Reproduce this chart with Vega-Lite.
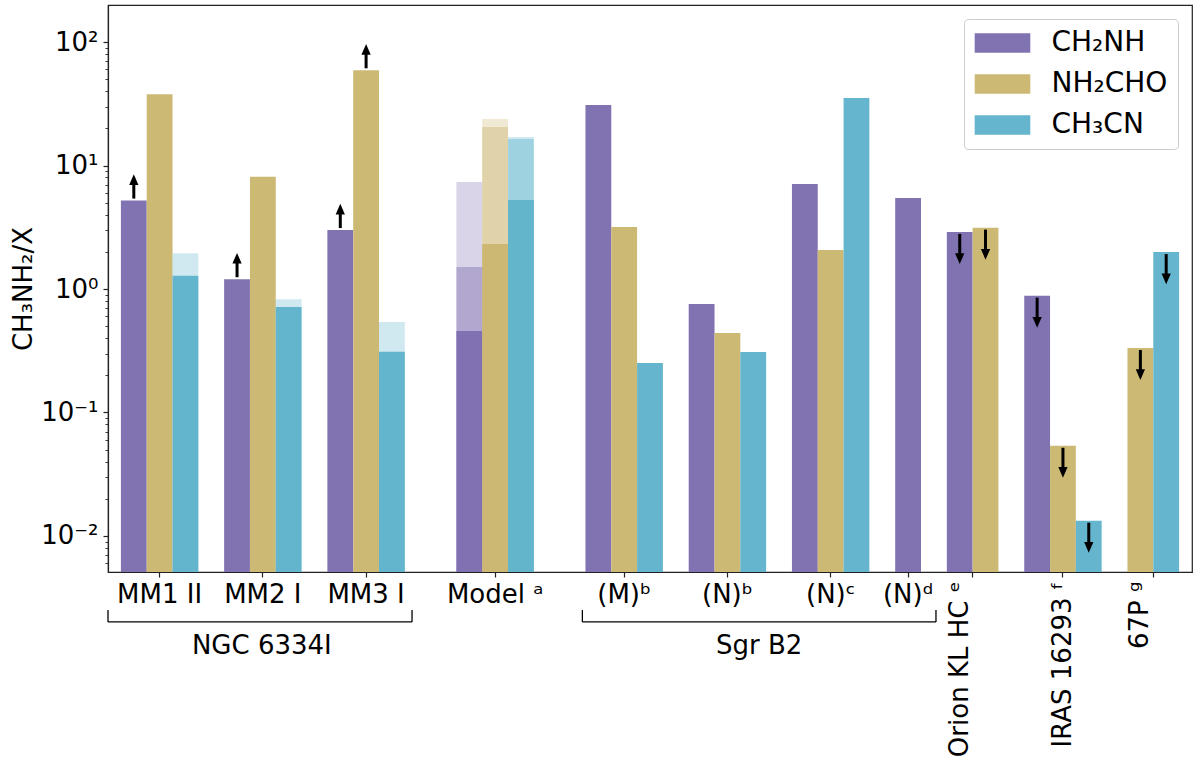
{
  "$schema": "https://vega.github.io/schema/vega-lite/v6.json",
  "width": 1084,
  "height": 567,
  "autosize": {"type": "none"},
  "padding": {"left": 108, "top": 5, "right": 8, "bottom": 193},
  "config": {
    "font": "DejaVu Sans",
    "view": {"stroke": "#222222", "strokeWidth": 1.2},
    "axis": {"grid": false, "domainColor": "#222222", "domainWidth": 1.2, "tickColor": "#222222", "labelColor": "black", "titleColor": "black", "labelFont": "DejaVu Sans", "titleFont": "DejaVu Sans", "titleFontWeight": "normal"},
    "text": {"font": "DejaVu Sans"}
  },
  "datasets": {
    "bars": [
      {"group": "MM1 II", "species": "CH₂NH", "ratio": 5.2, "limit": "lower"},
      {"group": "MM1 II", "species": "NH₂CHO", "ratio": 37.7},
      {"group": "MM1 II", "species": "CH₃CN", "ratio": 1.28, "light": 1.95},
      {"group": "MM2 I", "species": "CH₂NH", "ratio": 1.2, "limit": "lower"},
      {"group": "MM2 I", "species": "NH₂CHO", "ratio": 8.1},
      {"group": "MM2 I", "species": "CH₃CN", "ratio": 0.715, "light": 0.826},
      {"group": "MM3 I", "species": "CH₂NH", "ratio": 3.0, "limit": "lower"},
      {"group": "MM3 I", "species": "NH₂CHO", "ratio": 59, "limit": "lower"},
      {"group": "MM3 I", "species": "CH₃CN", "ratio": 0.31, "light": 0.54},
      {"group": "Model ᵃ", "species": "CH₂NH", "ratio": 0.457, "mid": 1.51, "light": 7.35},
      {"group": "Model ᵃ", "species": "NH₂CHO", "ratio": 2.31, "mid": 20.5, "light": 23.8},
      {"group": "Model ᵃ", "species": "CH₃CN", "ratio": 5.26, "mid": 16.4, "light": 17.0},
      {"group": "(M)ᵇ", "species": "CH₂NH", "ratio": 30.9},
      {"group": "(M)ᵇ", "species": "NH₂CHO", "ratio": 3.18},
      {"group": "(M)ᵇ", "species": "CH₃CN", "ratio": 0.252},
      {"group": "(N)ᵇ", "species": "CH₂NH", "ratio": 0.756},
      {"group": "(N)ᵇ", "species": "NH₂CHO", "ratio": 0.44},
      {"group": "(N)ᵇ", "species": "CH₃CN", "ratio": 0.309},
      {"group": "(N)ᶜ", "species": "CH₂NH", "ratio": 7.08},
      {"group": "(N)ᶜ", "species": "NH₂CHO", "ratio": 2.07},
      {"group": "(N)ᶜ", "species": "CH₃CN", "ratio": 35.2},
      {"group": "(N)ᵈ", "species": "CH₂NH", "ratio": 5.46},
      {"group": "Orion KL HC ᵉ", "species": "CH₂NH", "ratio": 2.9, "limit": "upper"},
      {"group": "Orion KL HC ᵉ", "species": "NH₂CHO", "ratio": 3.14, "limit": "upper"},
      {"group": "IRAS 16293 ᶠ", "species": "CH₂NH", "ratio": 0.883, "limit": "upper"},
      {"group": "IRAS 16293 ᶠ", "species": "NH₂CHO", "ratio": 0.0538, "limit": "upper"},
      {"group": "IRAS 16293 ᶠ", "species": "CH₃CN", "ratio": 0.0133, "limit": "upper"},
      {"group": "67P ᵍ", "species": "NH₂CHO", "ratio": 0.333, "limit": "upper"},
      {"group": "67P ᵍ", "species": "CH₃CN", "ratio": 1.99, "limit": "upper"}
    ]
  },
  "data": {"name": "bars"},
  "resolve": {"axis": {"x": "independent", "y": "independent"}},
  "layer": [
    {
      "transform": [{"calculate": "datum.group + '|' + datum.species", "as": "slot"}],
      "mark": {"type": "bar"},
      "encoding": {
        "x": {"field": "slot", "type": "nominal", "scale": {"type": "band", "paddingInner": 0, "paddingOuter": 0.5, "domain": ["MM1 II|CH₂NH","MM1 II|NH₂CHO","MM1 II|CH₃CN","_2","MM2 I|CH₂NH","MM2 I|NH₂CHO","MM2 I|CH₃CN","_6","MM3 I|CH₂NH","MM3 I|NH₂CHO","MM3 I|CH₃CN","_10","_11","Model ᵃ|CH₂NH","Model ᵃ|NH₂CHO","Model ᵃ|CH₃CN","_15","_16","(M)ᵇ|CH₂NH","(M)ᵇ|NH₂CHO","(M)ᵇ|CH₃CN","_20","(N)ᵇ|CH₂NH","(N)ᵇ|NH₂CHO","(N)ᵇ|CH₃CN","_24","(N)ᶜ|CH₂NH","(N)ᶜ|NH₂CHO","(N)ᶜ|CH₃CN","_28","(N)ᵈ|CH₂NH","_30","Orion KL HC ᵉ|CH₂NH","Orion KL HC ᵉ|NH₂CHO","_33","IRAS 16293 ᶠ|CH₂NH","IRAS 16293 ᶠ|NH₂CHO","IRAS 16293 ᶠ|CH₃CN","_37","67P ᵍ|NH₂CHO","67P ᵍ|CH₃CN"]},
          "axis": {"orient": "bottom", "title": null, "values": ["MM1 II|NH₂CHO","MM2 I|NH₂CHO","MM3 I|NH₂CHO","Model ᵃ|NH₂CHO","(M)ᵇ|NH₂CHO","(N)ᵇ|NH₂CHO","(N)ᶜ|NH₂CHO","(N)ᵈ|CH₂NH"], "labelExpr": "split(datum.value, '|')[0]", "labelAngle": 0, "labelFontSize": 26, "labelPadding": 4, "tickSize": 5, "tickWidth": 1.2, "bandPosition": 0.5, "labelLimit": 400, "labelOverlap": false, "domain": true}},
        "y": {"field": "ratio", "type": "quantitative", "stack": null, "scale": {"type": "log", "domain": [0.00511, 199.4], "nice": false},
          "axis": {"orient": "left", "title": "CH₃NH₂/X", "titleFontSize": 26, "titlePadding": 4, "labelFontSize": 26, "labelPadding": 5, "labelOverlap": false,
            "values": [0.01, 0.1, 1, 10, 100], "tickSize": 5, "tickWidth": 1.2,
            "labelExpr": "datum.value == 100 ? '10²' : datum.value == 10 ? '10¹' : datum.value == 1 ? '10⁰' : datum.value == 0.1 ? '10⁻¹' : '10⁻²'"}},
        "color": {"field": "species", "type": "nominal", "title": null,
          "scale": {"domain": ["CH₂NH", "NH₂CHO", "CH₃CN"], "range": ["#8172b2", "#ccb974", "#64b5cd"]},
          "legend": {"orient": "top-right", "offset": 14, "labelFontSize": 28, "labelFont": "DejaVu Sans", "labelColor": "black", "symbolType": "M-2,-0.7H2V0.7H-2Z", "symbolSize": 773, "symbolStrokeWidth": 0, "symbolOpacity": 1, "symbolOffset": 14.5, "labelOffset": 35, "rowPadding": 13, "padding": 10, "strokeColor": "#cccccc", "fillColor": "white", "cornerRadius": 4, "labelLimit": 300}}
      }
    },
    {
      "transform": [{"filter": "isValid(datum.light)"}, {"calculate": "datum.group + '|' + datum.species", "as": "slot"}],
      "mark": {"type": "bar", "opacity": 0.3},
      "encoding": {
        "x": {"field": "slot", "type": "nominal", "scale": {"type": "band", "paddingInner": 0, "paddingOuter": 0.5, "domain": ["MM1 II|CH₂NH","MM1 II|NH₂CHO","MM1 II|CH₃CN","_2","MM2 I|CH₂NH","MM2 I|NH₂CHO","MM2 I|CH₃CN","_6","MM3 I|CH₂NH","MM3 I|NH₂CHO","MM3 I|CH₃CN","_10","_11","Model ᵃ|CH₂NH","Model ᵃ|NH₂CHO","Model ᵃ|CH₃CN","_15","_16","(M)ᵇ|CH₂NH","(M)ᵇ|NH₂CHO","(M)ᵇ|CH₃CN","_20","(N)ᵇ|CH₂NH","(N)ᵇ|NH₂CHO","(N)ᵇ|CH₃CN","_24","(N)ᶜ|CH₂NH","(N)ᶜ|NH₂CHO","(N)ᶜ|CH₃CN","_28","(N)ᵈ|CH₂NH","_30","Orion KL HC ᵉ|CH₂NH","Orion KL HC ᵉ|NH₂CHO","_33","IRAS 16293 ᶠ|CH₂NH","IRAS 16293 ᶠ|NH₂CHO","IRAS 16293 ᶠ|CH₃CN","_37","67P ᵍ|NH₂CHO","67P ᵍ|CH₃CN"]},
          "axis": {"orient": "bottom", "title": null, "values": ["IRAS 16293 ᶠ|NH₂CHO"], "labelExpr": "split(datum.value, '|')[0]", "labelAngle": 270, "labelAlign": "right", "labelBaseline": "middle", "labelFontSize": 26, "labelPadding": 4, "tickSize": 5, "tickWidth": 1.2, "bandPosition": 0.5, "labelLimit": 400, "labelOverlap": false, "domain": false}},
        "y": {"field": "light", "type": "quantitative", "stack": null, "scale": {"type": "log", "domain": [0.00511, 199.4], "nice": false},
          "axis": {"orient": "left", "title": null, "labels": false, "domain": false, "tickSize": 3, "tickWidth": 0.9,
            "values": [0.006,0.007,0.008,0.009,0.02,0.03,0.04,0.05,0.06,0.07,0.08,0.09,0.2,0.3,0.4,0.5,0.6,0.7,0.8,0.9,2,3,4,5,6,7,8,9,20,30,40,50,60,70,80,90]}},
        "color": {"field": "species", "type": "nominal", "scale": {"domain": ["CH₂NH", "NH₂CHO", "CH₃CN"], "range": ["#8172b2", "#ccb974", "#64b5cd"]}, "legend": null}
      }
    },
    {
      "transform": [{"filter": "isValid(datum.mid)"}, {"calculate": "datum.group + '|' + datum.species", "as": "slot"}],
      "mark": {"type": "bar", "opacity": 0.45},
      "encoding": {
        "x": {"field": "slot", "type": "nominal", "scale": {"type": "band", "paddingInner": 0, "paddingOuter": 0.5, "domain": ["MM1 II|CH₂NH","MM1 II|NH₂CHO","MM1 II|CH₃CN","_2","MM2 I|CH₂NH","MM2 I|NH₂CHO","MM2 I|CH₃CN","_6","MM3 I|CH₂NH","MM3 I|NH₂CHO","MM3 I|CH₃CN","_10","_11","Model ᵃ|CH₂NH","Model ᵃ|NH₂CHO","Model ᵃ|CH₃CN","_15","_16","(M)ᵇ|CH₂NH","(M)ᵇ|NH₂CHO","(M)ᵇ|CH₃CN","_20","(N)ᵇ|CH₂NH","(N)ᵇ|NH₂CHO","(N)ᵇ|CH₃CN","_24","(N)ᶜ|CH₂NH","(N)ᶜ|NH₂CHO","(N)ᶜ|CH₃CN","_28","(N)ᵈ|CH₂NH","_30","Orion KL HC ᵉ|CH₂NH","Orion KL HC ᵉ|NH₂CHO","_33","IRAS 16293 ᶠ|CH₂NH","IRAS 16293 ᶠ|NH₂CHO","IRAS 16293 ᶠ|CH₃CN","_37","67P ᵍ|NH₂CHO","67P ᵍ|CH₃CN"]},
          "axis": {"orient": "bottom", "title": null, "values": ["Orion KL HC ᵉ|CH₂NH", "67P ᵍ|NH₂CHO"], "labelExpr": "split(datum.value, '|')[0]", "labelAngle": 270, "labelAlign": "right", "labelBaseline": "middle", "labelFontSize": 26, "labelPadding": 4, "tickSize": 5, "tickWidth": 1.2, "bandPosition": 1, "labelLimit": 400, "labelOverlap": false, "domain": false}},
        "y": {"field": "mid", "type": "quantitative", "stack": null, "scale": {"type": "log", "domain": [0.00511, 199.4], "nice": false}, "axis": null},
        "color": {"field": "species", "type": "nominal", "scale": {"domain": ["CH₂NH", "NH₂CHO", "CH₃CN"], "range": ["#8172b2", "#ccb974", "#64b5cd"]}, "legend": null}
      }
    },
    {
      "transform": [{"filter": "datum.limit === 'lower'"}, {"calculate": "datum.group + '|' + datum.species", "as": "slot"}],
      "mark": {"type": "rule", "color": "black", "strokeWidth": 3, "yOffset": -2, "y2Offset": -17},
      "encoding": {
        "x": {"field": "slot", "type": "nominal", "scale": {"type": "band", "paddingInner": 0, "paddingOuter": 0.5, "domain": ["MM1 II|CH₂NH","MM1 II|NH₂CHO","MM1 II|CH₃CN","_2","MM2 I|CH₂NH","MM2 I|NH₂CHO","MM2 I|CH₃CN","_6","MM3 I|CH₂NH","MM3 I|NH₂CHO","MM3 I|CH₃CN","_10","_11","Model ᵃ|CH₂NH","Model ᵃ|NH₂CHO","Model ᵃ|CH₃CN","_15","_16","(M)ᵇ|CH₂NH","(M)ᵇ|NH₂CHO","(M)ᵇ|CH₃CN","_20","(N)ᵇ|CH₂NH","(N)ᵇ|NH₂CHO","(N)ᵇ|CH₃CN","_24","(N)ᶜ|CH₂NH","(N)ᶜ|NH₂CHO","(N)ᶜ|CH₃CN","_28","(N)ᵈ|CH₂NH","_30","Orion KL HC ᵉ|CH₂NH","Orion KL HC ᵉ|NH₂CHO","_33","IRAS 16293 ᶠ|CH₂NH","IRAS 16293 ᶠ|NH₂CHO","IRAS 16293 ᶠ|CH₃CN","_37","67P ᵍ|NH₂CHO","67P ᵍ|CH₃CN"]}, "axis": null},
        "y": {"field": "ratio", "type": "quantitative", "scale": {"type": "log", "domain": [0.00511, 199.4], "nice": false}, "axis": null},
        "y2": {"field": "ratio"}
      }
    },
    {
      "transform": [{"filter": "datum.limit === 'lower'"}, {"calculate": "datum.group + '|' + datum.species", "as": "slot"}],
      "mark": {"type": "point", "shape": "M0,-1.15L1,1.15L-1,1.15Z", "filled": true, "size": 86, "color": "black", "opacity": 1, "yOffset": -21},
      "encoding": {
        "x": {"field": "slot", "type": "nominal", "scale": {"type": "band", "paddingInner": 0, "paddingOuter": 0.5, "domain": ["MM1 II|CH₂NH","MM1 II|NH₂CHO","MM1 II|CH₃CN","_2","MM2 I|CH₂NH","MM2 I|NH₂CHO","MM2 I|CH₃CN","_6","MM3 I|CH₂NH","MM3 I|NH₂CHO","MM3 I|CH₃CN","_10","_11","Model ᵃ|CH₂NH","Model ᵃ|NH₂CHO","Model ᵃ|CH₃CN","_15","_16","(M)ᵇ|CH₂NH","(M)ᵇ|NH₂CHO","(M)ᵇ|CH₃CN","_20","(N)ᵇ|CH₂NH","(N)ᵇ|NH₂CHO","(N)ᵇ|CH₃CN","_24","(N)ᶜ|CH₂NH","(N)ᶜ|NH₂CHO","(N)ᶜ|CH₃CN","_28","(N)ᵈ|CH₂NH","_30","Orion KL HC ᵉ|CH₂NH","Orion KL HC ᵉ|NH₂CHO","_33","IRAS 16293 ᶠ|CH₂NH","IRAS 16293 ᶠ|NH₂CHO","IRAS 16293 ᶠ|CH₃CN","_37","67P ᵍ|NH₂CHO","67P ᵍ|CH₃CN"]}, "axis": null},
        "y": {"field": "ratio", "type": "quantitative", "scale": {"type": "log", "domain": [0.00511, 199.4], "nice": false}, "axis": null}
      }
    },
    {
      "transform": [{"filter": "datum.limit === 'upper'"}, {"calculate": "datum.group + '|' + datum.species", "as": "slot"}],
      "mark": {"type": "rule", "color": "black", "strokeWidth": 3, "yOffset": 2, "y2Offset": 22},
      "encoding": {
        "x": {"field": "slot", "type": "nominal", "scale": {"type": "band", "paddingInner": 0, "paddingOuter": 0.5, "domain": ["MM1 II|CH₂NH","MM1 II|NH₂CHO","MM1 II|CH₃CN","_2","MM2 I|CH₂NH","MM2 I|NH₂CHO","MM2 I|CH₃CN","_6","MM3 I|CH₂NH","MM3 I|NH₂CHO","MM3 I|CH₃CN","_10","_11","Model ᵃ|CH₂NH","Model ᵃ|NH₂CHO","Model ᵃ|CH₃CN","_15","_16","(M)ᵇ|CH₂NH","(M)ᵇ|NH₂CHO","(M)ᵇ|CH₃CN","_20","(N)ᵇ|CH₂NH","(N)ᵇ|NH₂CHO","(N)ᵇ|CH₃CN","_24","(N)ᶜ|CH₂NH","(N)ᶜ|NH₂CHO","(N)ᶜ|CH₃CN","_28","(N)ᵈ|CH₂NH","_30","Orion KL HC ᵉ|CH₂NH","Orion KL HC ᵉ|NH₂CHO","_33","IRAS 16293 ᶠ|CH₂NH","IRAS 16293 ᶠ|NH₂CHO","IRAS 16293 ᶠ|CH₃CN","_37","67P ᵍ|NH₂CHO","67P ᵍ|CH₃CN"]}, "axis": null},
        "y": {"field": "ratio", "type": "quantitative", "scale": {"type": "log", "domain": [0.00511, 199.4], "nice": false}, "axis": null},
        "y2": {"field": "ratio"}
      }
    },
    {
      "transform": [{"filter": "datum.limit === 'upper'"}, {"calculate": "datum.group + '|' + datum.species", "as": "slot"}],
      "mark": {"type": "point", "shape": "M0,1.15L1,-1.15L-1,-1.15Z", "filled": true, "size": 86, "color": "black", "opacity": 1, "yOffset": 26.7},
      "encoding": {
        "x": {"field": "slot", "type": "nominal", "scale": {"type": "band", "paddingInner": 0, "paddingOuter": 0.5, "domain": ["MM1 II|CH₂NH","MM1 II|NH₂CHO","MM1 II|CH₃CN","_2","MM2 I|CH₂NH","MM2 I|NH₂CHO","MM2 I|CH₃CN","_6","MM3 I|CH₂NH","MM3 I|NH₂CHO","MM3 I|CH₃CN","_10","_11","Model ᵃ|CH₂NH","Model ᵃ|NH₂CHO","Model ᵃ|CH₃CN","_15","_16","(M)ᵇ|CH₂NH","(M)ᵇ|NH₂CHO","(M)ᵇ|CH₃CN","_20","(N)ᵇ|CH₂NH","(N)ᵇ|NH₂CHO","(N)ᵇ|CH₃CN","_24","(N)ᶜ|CH₂NH","(N)ᶜ|NH₂CHO","(N)ᶜ|CH₃CN","_28","(N)ᵈ|CH₂NH","_30","Orion KL HC ᵉ|CH₂NH","Orion KL HC ᵉ|NH₂CHO","_33","IRAS 16293 ᶠ|CH₂NH","IRAS 16293 ᶠ|NH₂CHO","IRAS 16293 ᶠ|CH₃CN","_37","67P ᵍ|NH₂CHO","67P ᵍ|CH₃CN"]}, "axis": null},
        "y": {"field": "ratio", "type": "quantitative", "scale": {"type": "log", "domain": [0.00511, 199.4], "nice": false}, "axis": null}
      }
    },
    {
      "data": {"values": [{}]},
      "mark": {"type": "rule", "color": "black", "strokeWidth": 1.3},
      "encoding": {
        "x": {"datum": "MM1 II|CH₂NH", "type": "nominal", "bandPosition": -0.5, "axis": null},
        "x2": {"datum": "_10", "bandPosition": 0.28},
        "y": {"datum": 0.002013, "type": "quantitative", "axis": null}
      }
    },
    {
      "data": {"values": [{}]},
      "mark": {"type": "rule", "color": "black", "strokeWidth": 1.3},
      "encoding": {
        "x": {"datum": "MM1 II|CH₂NH", "type": "nominal", "bandPosition": -0.5, "axis": null},
        "y": {"datum": 0.002013, "type": "quantitative", "axis": null},
        "y2": {"datum": 0.002518}
      }
    },
    {
      "data": {"values": [{}]},
      "mark": {"type": "rule", "color": "black", "strokeWidth": 1.3},
      "encoding": {
        "x": {"datum": "_10", "type": "nominal", "bandPosition": 0.28, "axis": null},
        "y": {"datum": 0.002013, "type": "quantitative", "axis": null},
        "y2": {"datum": 0.002518}
      }
    },
    {
      "data": {"values": [{}]},
      "mark": {"type": "rule", "color": "black", "strokeWidth": 1.3},
      "encoding": {
        "x": {"datum": "_16", "type": "nominal", "bandPosition": 0.88, "axis": null},
        "x2": {"datum": "_30", "bandPosition": 0.58},
        "y": {"datum": 0.002013, "type": "quantitative", "axis": null}
      }
    },
    {
      "data": {"values": [{}]},
      "mark": {"type": "rule", "color": "black", "strokeWidth": 1.3},
      "encoding": {
        "x": {"datum": "_16", "type": "nominal", "bandPosition": 0.88, "axis": null},
        "y": {"datum": 0.002013, "type": "quantitative", "axis": null},
        "y2": {"datum": 0.002518}
      }
    },
    {
      "data": {"values": [{}]},
      "mark": {"type": "rule", "color": "black", "strokeWidth": 1.3},
      "encoding": {
        "x": {"datum": "_30", "type": "nominal", "bandPosition": 0.58, "axis": null},
        "y": {"datum": 0.002013, "type": "quantitative", "axis": null},
        "y2": {"datum": 0.002518}
      }
    },
    {
      "data": {"values": [{}]},
      "mark": {"type": "text", "fontSize": 26, "align": "center", "baseline": "middle", "color": "black"},
      "encoding": {
        "x": {"datum": "MM2 I|NH₂CHO", "type": "nominal", "bandPosition": 0.46, "axis": null},
        "y": {"datum": 0.001286, "type": "quantitative", "axis": null},
        "text": {"value": "NGC 6334I"}
      }
    },
    {
      "data": {"values": [{}]},
      "mark": {"type": "text", "fontSize": 26, "align": "center", "baseline": "middle", "color": "black"},
      "encoding": {
        "x": {"datum": "(N)ᵇ|CH₃CN", "type": "nominal", "bandPosition": 0.73, "axis": null},
        "y": {"datum": 0.001286, "type": "quantitative", "axis": null},
        "text": {"value": "Sgr B2"}
      }
    }
  ]
}
